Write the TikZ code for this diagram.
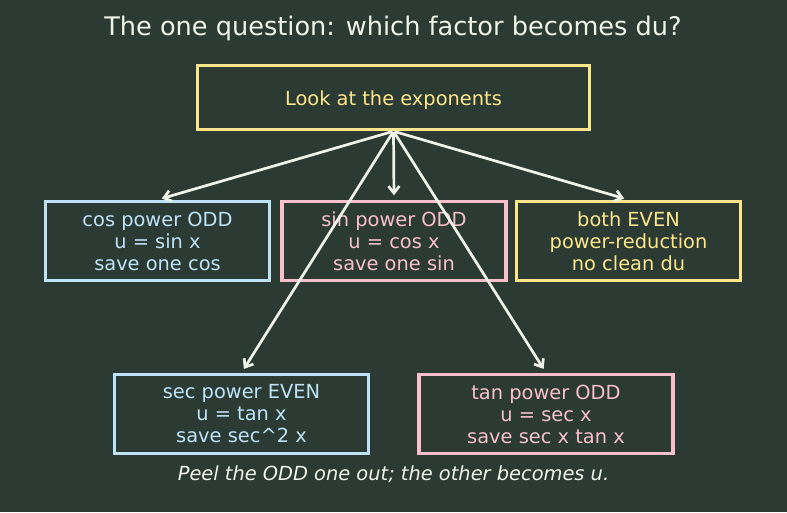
\documentclass[tikz,border=0pt]{standalone}
\usepackage{fontspec}
\setmainfont{DejaVu Sans}
\usetikzlibrary{arrows.meta}
\definecolor{bg}{HTML}{2B3B34}
\definecolor{cyel}{HTML}{FDE68A}
\definecolor{cblue}{HTML}{BEE3F8}
\definecolor{cpink}{HTML}{F9C0CB}
\definecolor{cwhite}{HTML}{F0F4E8}
\tikzset{
  box/.style={draw, line width=3.5pt, inner sep=0pt, align=center,
    font=\fontsize{19.4}{22}\selectfont},
  rowtwo/.style={box, minimum width=224pt, minimum height=79pt},
  rowthree/.style={box, minimum width=254pt, minimum height=79pt},
  conn/.style={draw=cwhite, line width=2.7pt, -{Straight Barb[length=7pt,width=11pt]}, shorten >=4.5pt, shorten <=1pt}
}
\begin{document}
\begin{tikzpicture}[x=1pt,y=-1pt]
\fill[bg] (0,0) rectangle (787,512);
\useasboundingbox (0,0) rectangle (787,512);
\node[text=cwhite, font=\fontsize{25.6}{30}\selectfont] (title) at (393,28) {The one question: which factor becomes du?};
\node[box, draw=cyel, text=cyel, minimum width=392pt, minimum height=64pt] (top) at (393.5,97.5) {\raisebox{-2.5pt}[\height][\depth]{Look at the exponents}};
\node[rowtwo, draw=cblue, text=cblue] (b1) at (157.5,241) {cos power ODD\\u = sin x\\save one cos};
\node[rowtwo, draw=cpink, text=cpink] (b2) at (394,241) {sin power ODD\\u = cos x\\save one sin};
\node[rowtwo, draw=cyel, text=cyel] (b3) at (628.5,241) {both EVEN\\power-reduction\\no clean du};
\node[rowthree, draw=cblue, text=cblue] (b4) at (241.5,414) {sec power EVEN\\u = tan x\\save sec\^{}2 x};
\node[rowthree, draw=cpink, text=cpink] (b5) at (546,414) {tan power ODD\\u = sec x\\save sec x tan x};
\node[text=cwhite, font=\fontsize{19.4}{22}\selectfont\itshape] (foot) at (393.5,474) {Peel the ODD one out; the other becomes u.};
\draw[conn] (top.south) -- (b1.north);
\draw[conn] (top.south) -- (b2.north);
\draw[conn] (top.south) -- (b3.north);
\draw[conn] (top.south) -- (b4.north);
\draw[conn] (top.south) -- (b5.north);
\end{tikzpicture}
\end{document}
